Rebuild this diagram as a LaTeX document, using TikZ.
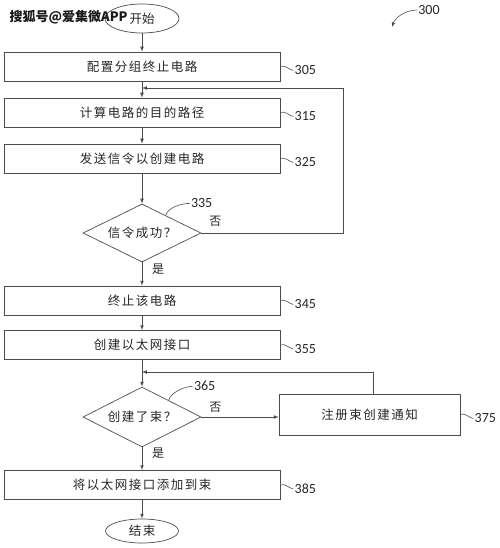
\documentclass[tikz,border=0pt]{standalone}
\usepackage{fontspec}
\setmainfont{Carlito}
\newfontfamily\cjk[LetterSpace=12]{Noto Sans CJK SC}
\newfontfamily\cjkplain{Noto Sans CJK SC}
\usetikzlibrary{shapes.geometric,calc}

\tikzset{
  stepbox/.style={draw=black!70, line width=0.7pt, rectangle, minimum width=276pt,
    minimum height=29pt, inner sep=0pt, text=black!85, font=\cjk\fontsize{12.5}{15}\selectfont},
  decision/.style={draw=black!70, line width=0.7pt, diamond, aspect=2, minimum width=118pt,
    minimum height=58pt, inner sep=0pt, text=black!85, font=\cjk\fontsize{12.5}{15}\selectfont},
  terminal/.style={draw=black!70, line width=0.7pt, ellipse, inner sep=0pt, text=black!85,
    font=\cjk\fontsize{12.5}{15}\selectfont},
  yesno/.style={text=black!85, font=\cjkplain\fontsize{12}{14}\selectfont},
  num/.style={text=black!85, inner sep=1pt, font=\fontsize{14}{16}\selectfont},
  leader/.style={draw=black!70, line width=0.6pt},
}

\begin{document}
\begin{tikzpicture}[x=1pt, y=-1pt, >=latex, line width=0.7pt, draw=black!70]
  \useasboundingbox (0,0) rectangle (499,548);

  % main column
  \node[terminal, minimum width=74pt, minimum height=29pt, font=\cjkplain\fontsize{12.5}{15}\selectfont,
    text width=25pt, align=right] (start) at (142,18.5) {开始};
  \node[stepbox] (b305) at (142,66.5) {配置分组终止电路};
  \node[stepbox] (b315) at (142,112.5) {计算电路的目的路径};
  \node[stepbox] (b325) at (142,158.5) {发送信令以创建电路};
  \node[decision] (d335) at (142,233) {信令成功？};
  \node[stepbox] (b345) at (142,300.5) {终止该电路};
  \node[stepbox] (b355) at (142,345) {创建以太网接口};
  \node[decision, minimum height=60pt] (d365) at (142,417) {创建了束？};
  \node[stepbox, minimum width=181pt, minimum height=41pt] (b375) at (369.5,414.5) {注册束创建通知};
  \node[stepbox] (b385) at (142,485) {将以太网接口添加到束};
  \node[terminal, minimum width=73pt, minimum height=24pt] (stop) at (142,531) {结束};

  \foreach \a/\b in {start/b305, b305/b315, b315/b325, b325/d335, d335/b345,
                     b345/b355, b355/d365, d365/b385, b385/stop}
    \draw[->, black!70] (\a) -- (\b);

  % loops back
  \coordinate (fb1) at (343,88);
  \draw[->, black!70] (d335.east) -| (fb1) -- (fb1 -| b315.north);
  \coordinate (fb2) at (373,372);
  \draw[->, black!70] (d365.east) -- (d365.east -| b375.west);
  \draw[->, black!70] (fb2 |- b375.north) -- (fb2) -- (fb2 -| d365.north);

  \node[yesno] at ($(d335.east)+(14,-12)$) {否};
  \node[yesno] at ($(d335.south)+(16,7)$) {是};
  \node[yesno] at ($(d365.east)+(14,-10)$) {否};
  \node[yesno] at ($(d365.south)+(16,6)$) {是};

  % reference numbers
  \foreach \n in {305,315,325,345,355,375,385}
    \draw[leader] (b\n.east) .. controls +(5,-2) and +(-5,-1) .. ++(13,4) node[num, anchor=west] {\n};
  \draw[leader] ($(d335.north)!0.4!(d335.east)$) .. controls +(2,-8) and +(-8,0) .. ++(24,-12)
    node[num, anchor=west] {335};
  \draw[leader] ($(d365.north)!0.45!(d365.east)$) .. controls +(2,-8) and +(-8,0) .. ++(24,-14)
    node[num, anchor=west] {365};
  \node[num] (l300) at (429,10) {300};
  \draw[->, leader] (l300.west) .. controls +(-12,0) and +(3,-9) .. (392,27);

  \node[font=\cjkplain\bfseries\fontsize{13}{13}\selectfont, text=black!90, inner sep=0pt,
    anchor=east] (mark) at (128,17) {搜狐号@爱集微APP};
\end{tikzpicture}
\end{document}
